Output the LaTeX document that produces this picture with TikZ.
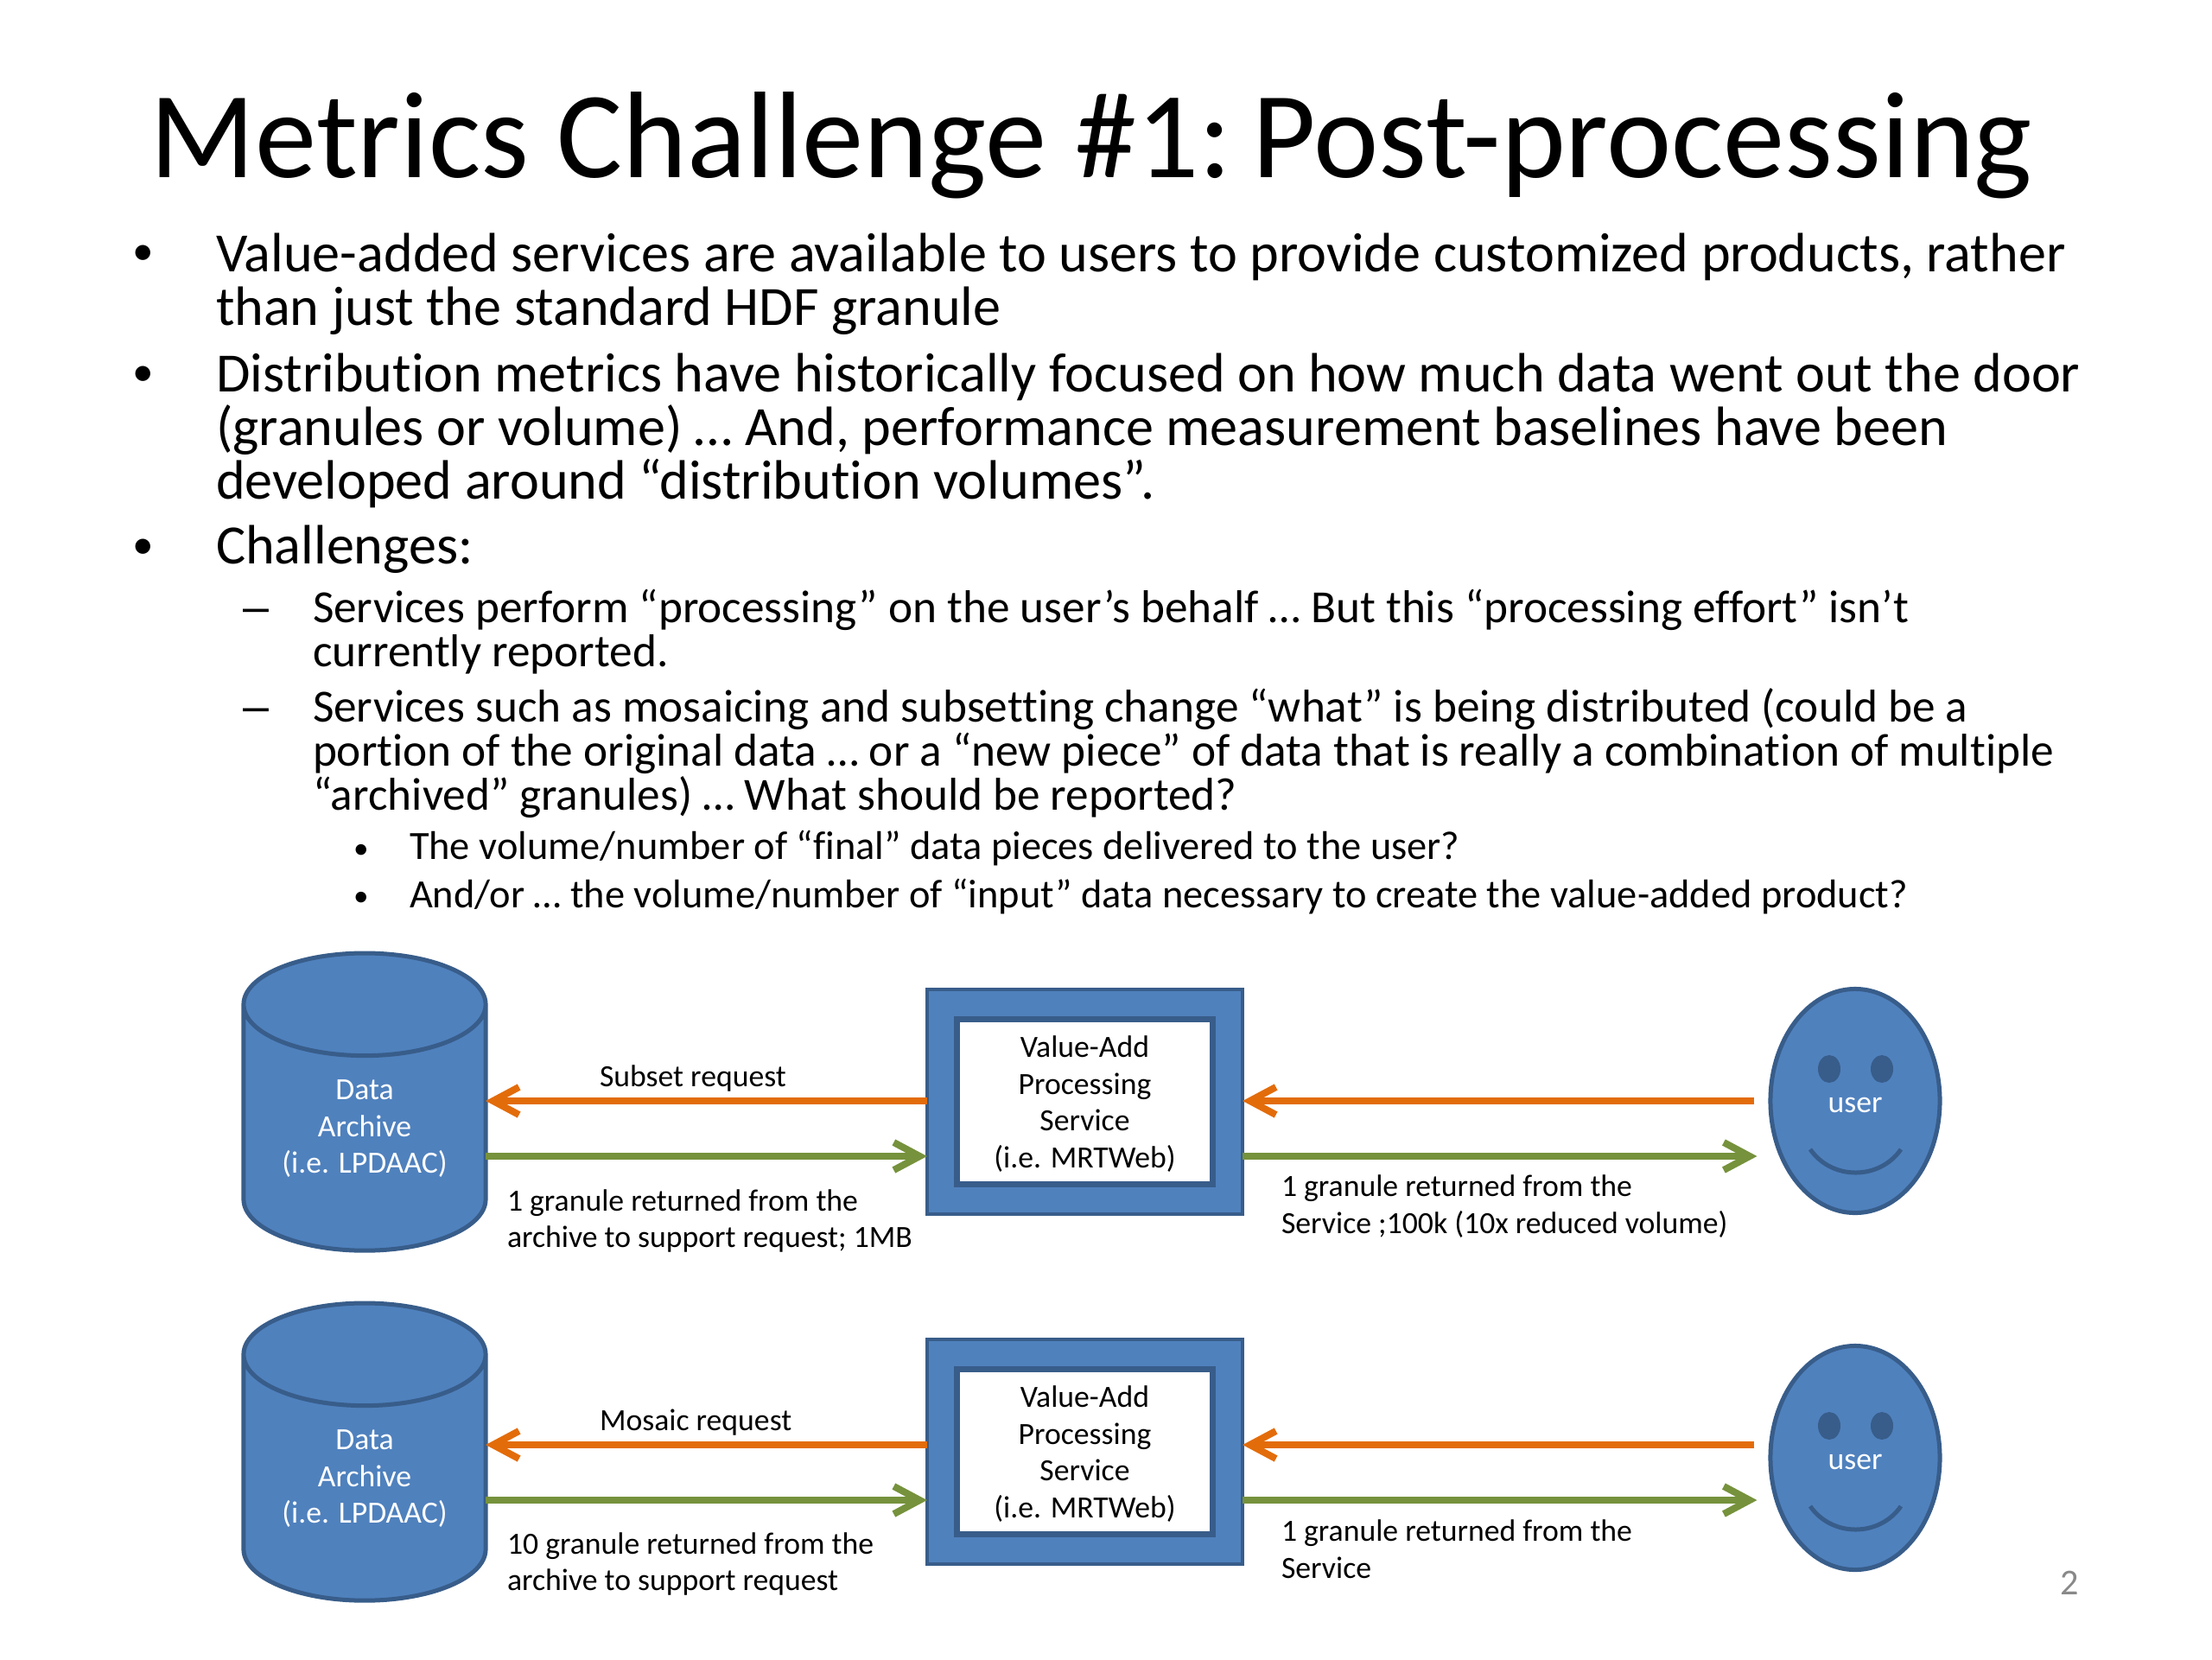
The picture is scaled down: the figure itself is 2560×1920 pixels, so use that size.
\documentclass[tikz,border=0pt]{standalone}
\usepackage{fontspec}
\setmainfont{Carlito}[Ligatures=NoCommon]
\newfontfamily\dashfont{Liberation Sans}
\usetikzlibrary{arrows.meta,shapes.geometric}
\definecolor{shapefill}{HTML}{4F81BD}
\definecolor{shapeline}{HTML}{385D8A}
\definecolor{reqcolor}{HTML}{E36C0A}
\definecolor{retcolor}{HTML}{76923C}
\definecolor{pagegray}{HTML}{898989}

\begin{document}
\begin{tikzpicture}[
    x=0.01cm, y=-0.01cm,
    every node/.style={inner sep=0pt, outer sep=0pt},
    headline/.style={font=\fontsize{40.55}{46}\selectfont, anchor=center},
    bodyA/.style={font=\fontsize{18.25}{17.6}\selectfont, anchor=north west, align=left},
    bodyB/.style={font=\fontsize{15.15}{14.45}\selectfont, anchor=north west, align=left},
    bodyC/.style={font=\fontsize{13.2}{14}\selectfont, anchor=north west, align=left},
    dotA/.style={font=\fontsize{14}{14}\selectfont},
    dashB/.style={font=\dashfont\fontsize{15.3}{16}\selectfont},
    dotC/.style={font=\fontsize{10}{10}\selectfont},
    small/.style={font=\fontsize{10.15}{12.15}\selectfont, align=left},
    smallmid/.style={font=\fontsize{10.15}{12.15}\selectfont, align=center},
    archive/.style={cylinder, shape border rotate=90, aspect=0.62, draw=shapeline,
        fill=shapefill, line width=.5mm, minimum width=28mm, minimum height=34.4mm,
        text=white, smallmid},
    frame/.style={draw=shapeline, fill=shapefill, line width=.4mm,
        minimum width=36.5mm, minimum height=25.9mm},
    inner/.style={draw=shapeline, fill=white, line width=.7mm,
        minimum width=29.5mm, minimum height=19mm},
    face/.style={ellipse, draw=shapeline, fill=shapefill, line width=.5mm,
        minimum width=19.6mm, minimum height=25.9mm},
    eye/.style={ellipse, fill=shapeline, minimum width=2.6mm, minimum height=3.2mm},
    smile/.style={draw=shapeline, line width=.5mm},
    request/.style={draw=reqcolor, line width=.8mm, -{Straight Barb[length=3mm,width=3.2mm]}},
    return/.style={draw=retcolor, line width=.8mm, -{Straight Barb[length=3mm,width=3.2mm]}}]

    \useasboundingbox (0,0) rectangle (2560,1920);

    \node (title) [headline] at (1263,168) {Metrics Challenge \#1:\kern-2.3pt\ Post-processing};

    \node (p1) [bodyA] at (250,270) {Value-added services are available to users to provide customized products, rather\\than just the standard HDF granule};
    \node (p2) [bodyA] at (250,409) {Distribution metrics have historically focused on how much data went out the door\\(granules or volume) … And, performance measurement baselines have been\\developed around “distribution volumes”.};
    \node (p3) [bodyA] at (250,608) {Challenges:};
    \node (p4) [bodyB] at (362,682) {Services perform “processing” on the user’s behalf … But this “processing effort” isn’t\\currently reported.};
    \node (p5) [bodyB] at (362,797) {Services such as mosaicing and subsetting change “what” is being distributed (could be a\\portion of the original data … or a “new piece” of data that is really a combination of multiple\\“archived” granules) … What should be reported?};
    \node (p6) [bodyC] at (474,961) {The volume/number of “final” data pieces delivered to the user?};
    \node (p7) [bodyC] at (474,1017) {And/or … the volume/number of “input” data necessary to create the value-added product?};

    \node (d1) [dotA] at (166,295) {•};
    \node (d2) [dotA] at (166,435) {•};
    \node (d3) [dotA] at (166,635) {•};
    \node (d4) [dashB] at (296,713) {–};
    \node (d5) [dashB] at (296,828) {–};
    \node (d6) [dotC] at (418,985) {•};
    \node (d7) [dotC] at (418,1040) {•};

    \foreach \row/\yc/\yb/\yf/\yo/\yg in {1/1306/1275/1274/1274/1338, 2/1711/1680/1687/1672/1736} {
        \node (arch\row) [archive] at (422,\yc) {Data\\Archive\\(i.e. LPDAAC)};
        \node (box\row) [frame] at (1255.5,\yb) {};
        \node (serv\row) [inner] at (box\row.center) {};
        \node (label\row) [smallmid] at ([yshift=-.25mm]serv\row.center) {Value-Add\\Processing\\Service\\(i.e. MRTWeb)};
        \node (user\row) [face] at (2147,\yf) {};
        \node (name\row) [smallmid, text=white] at ([yshift=-.5mm]user\row.center) {user};
        \node (eyeL\row) [eye] at (2117,\yf-37) {};
        \node (eyeR\row) [eye] at (2178,\yf-37) {};
        \coordinate (smileL\row) at (2095,\yf+56);
        \coordinate (smileR\row) at (2200,\yf+56);
        \draw[smile] (smileL\row) .. controls (2120,\yf+92) and (2175,\yf+92) .. (smileR\row);
        \coordinate (reqy\row) at (0,\yo);
        \coordinate (rety\row) at (0,\yg);
        \draw[request] (box\row.west |- reqy\row) -- (arch\row.east |- reqy\row);
        \draw[return] (arch\row.east |- rety\row) -- (box\row.west |- rety\row);
        \draw[request, shorten <=1.85mm] (user\row.west |- reqy\row) -- (box\row.east |- reqy\row);
        \draw[return, shorten >=1.55mm] (box\row.east |- rety\row) -- (user\row.west |- rety\row);
    }

    \node (sub) [small, anchor=west] at (694,1248) {Subset request};
    \node (mos) [small, anchor=west] at (694,1646) {Mosaic request};
    \node (ret1) [small, anchor=west] at (587,1413) {1 granule returned from the\\archive to support request; 1MB};
    \node (out1) [small, anchor=west] at (1483,1396) {1 granule returned from the\\Service ;100k (10x reduced volume)};
    \node (ret2) [small, anchor=west] at (587,1810) {10 granule returned from the\\archive to support request};
    \node (out2) [small, anchor=west] at (1483,1793) {1 granule returned from the\\Service};

    \node (page) [font=\fontsize{12}{14}\selectfont, text=pagegray] at (2395,1832) {2};

\end{tikzpicture}
\end{document}
